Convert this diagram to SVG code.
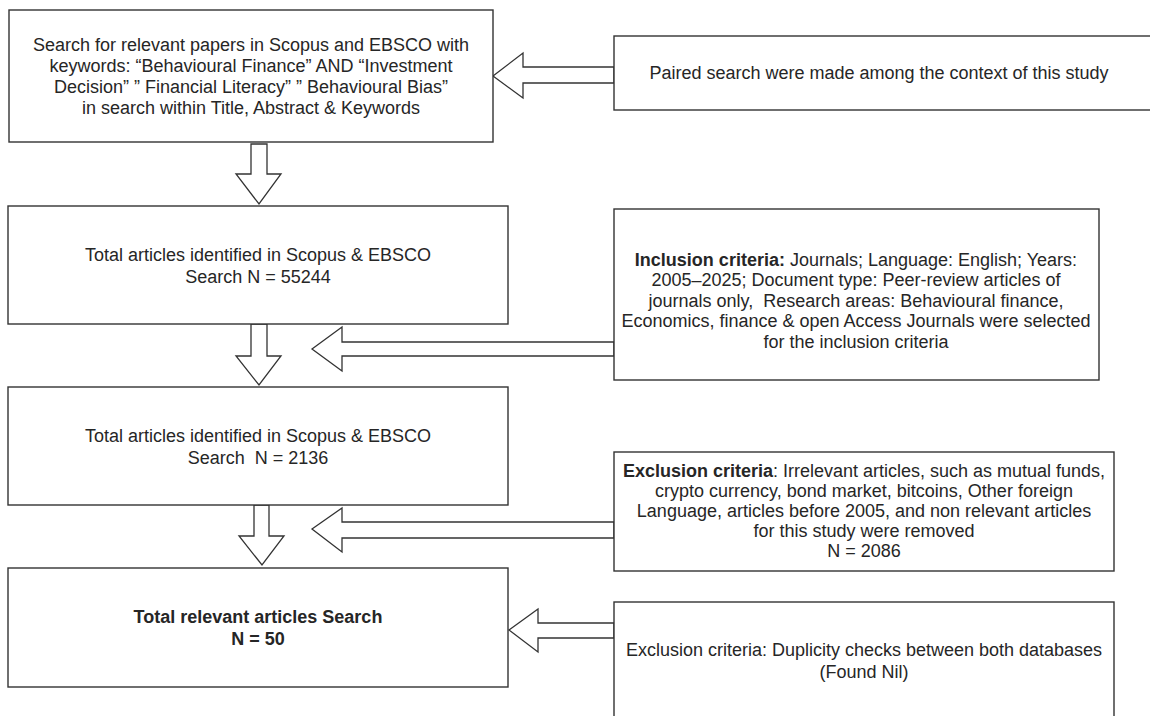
<svg xmlns="http://www.w3.org/2000/svg" width="1150" height="716" viewBox="0 0 1150 716">
<style>
.box{fill:#ffffff;stroke:#333333;stroke-width:1.4}
.arr{fill:#ffffff;stroke:#333333;stroke-width:1.3;stroke-linejoin:miter}
text{font-family:"Liberation Sans",Arial,sans-serif;font-size:18px;fill:#262626;text-anchor:middle;white-space:pre}
.b{font-weight:bold}
</style>
<rect x="0" y="0" width="1150" height="716" fill="#ffffff"/>
<g id="connectors">
<polygon class="arr" points="493,76 523,53 523,67 614,67 614,83 523,83 523,98"/>
<polygon class="arr" points="312,349 342,327 342,342 614,342 614,356 342,356 342,371"/>
<polygon class="arr" points="312,529 342,508 342,522 614,522 614,538 342,538 342,552"/>
<polygon class="arr" points="509,630 538,609 538,623 614,623 614,638 538,638 538,652"/>
<polygon class="arr" points="251,144 267,144 267,174 281,174 259,204 236,174 251,174"/>
<polygon class="arr" points="251,324 267,324 267,356 281,356 259,385 236,356 251,356"/>
<polygon class="arr" points="254,505 269,505 269,536 284,536 262,565 239,536 254,536"/>
</g>
<g id="search">
<rect class="box" x="9" y="10" width="484" height="132"/>
<text x="251" y="51">Search for relevant papers in Scopus and EBSCO with</text>
<text x="251" y="72">keywords: “Behavioural Finance” AND “Investment</text>
<text x="251" y="93">Decision” ” Financial Literacy” ” Behavioural Bias”</text>
<text x="251" y="114">in search within Title, Abstract &amp; Keywords</text>
</g>
<g id="paired">
<rect class="box" x="614" y="36" width="540" height="74"/>
<text x="879" y="79">Paired search were made among the context of this study</text>
</g>
<g id="identified1">
<rect class="box" x="8" y="206" width="500" height="118"/>
<text x="258" y="261">Total articles identified in Scopus &amp; EBSCO</text>
<text x="258" y="283">Search N = 55244</text>
</g>
<g id="inclusion">
<rect class="box" x="614" y="209" width="485" height="171"/>
<text x="856" y="266"><tspan class="b">Inclusion criteria:</tspan> Journals; Language: English; Years:</text>
<text x="856" y="286">2005–2025; Document type: Peer-review articles of</text>
<text x="856" y="307">journals only,  Research areas: Behavioural finance,</text>
<text x="856" y="327">Economics, finance &amp; open Access Journals were selected</text>
<text x="856" y="348">for the inclusion criteria</text>
</g>
<g id="identified2">
<rect class="box" x="8" y="387" width="500" height="118"/>
<text x="258" y="442">Total articles identified in Scopus &amp; EBSCO</text>
<text x="258" y="464">Search  N = 2136</text>
</g>
<g id="exclusion">
<rect class="box" x="614" y="452" width="500" height="119"/>
<text x="864" y="477"><tspan class="b">Exclusion criteria</tspan>: Irrelevant articles, such as mutual funds,</text>
<text x="864" y="497">crypto currency, bond market, bitcoins, Other foreign</text>
<text x="864" y="517">Language, articles before 2005, and non relevant articles</text>
<text x="864" y="537">for this study were removed</text>
<text x="864" y="557">N = 2086</text>
</g>
<g id="relevant">
<rect class="box" x="8" y="568" width="500" height="119"/>
<text class="b" x="258" y="623">Total relevant articles Search</text>
<text class="b" x="258" y="645">N = 50</text>
</g>
<g id="duplicity">
<rect class="box" x="614" y="602" width="500" height="130"/>
<text x="864" y="656">Exclusion criteria: Duplicity checks between both databases</text>
<text x="864" y="678">(Found Nil)</text>
</g>
</svg>
